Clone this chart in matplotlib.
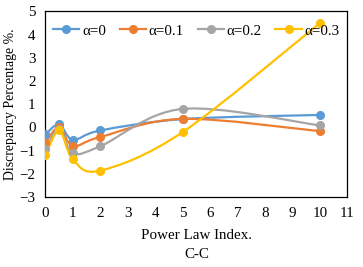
import numpy as np
import matplotlib
matplotlib.use('Agg')
import matplotlib.pyplot as plt
from matplotlib.path import Path
from matplotlib.patches import PathPatch
from matplotlib.lines import Line2D

plt.rcParams['font.family'] = ['Liberation Serif', 'DejaVu Serif']
plt.rcParams['font.size'] = 10.8

power_index = [0, 0.5, 1, 2, 5, 10]
alpha_0 = [-0.30, 0.13, -0.53, -0.13, 0.36, 0.54]
alpha_01 = [-0.65, 0.00, -0.80, -0.41, 0.37, -0.16]
alpha_02 = [-0.94, -0.06, -1.10, -0.81, 0.80, 0.09]
alpha_03 = [-1.20, -0.13, -1.37, -1.86, -0.20, 4.50]
labels = ['α=0', 'α=0.1', 'α=0.2', 'α=0.3']
colors = ['#5B9BD5', '#ED7D31', '#A5A5A5', '#FFC000']


def smooth_path(x, y):
    # excel-like smoothed line: bezier through points, catmull-rom controls
    x = np.asarray(x, float)
    y = np.asarray(y, float)
    n = len(x)
    verts = [(x[0], y[0])]
    codes = [Path.MOVETO]
    for i in range(n - 1):
        p0 = np.array([x[max(i - 1, 0)], y[max(i - 1, 0)]])
        p1 = np.array([x[i], y[i]])
        p2 = np.array([x[i + 1], y[i + 1]])
        p3 = np.array([x[min(i + 2, n - 1)], y[min(i + 2, n - 1)]])
        c1 = p1 + (p2 - p0) / 6
        c2 = p2 - (p3 - p1) / 6
        verts += [tuple(c1), tuple(c2), tuple(p2)]
        codes += [Path.CURVE4] * 3
    return Path(verts, codes)


fig, ax = plt.subplots(figsize=(3.63, 2.67), dpi=100)
fig.subplots_adjust(left=0.125, right=0.957, top=0.957, bottom=0.262)

series = [alpha_0, alpha_01, alpha_02, alpha_03]
handles = []
for vals, lab, col in zip(series, labels, colors):
    patch = PathPatch(smooth_path(power_index, vals), facecolor='none',
                      edgecolor=col, lw=1.6, zorder=2)
    ax.add_patch(patch)
    ax.plot(power_index, vals, 'o', color=col, ms=5.5, zorder=3)
    handles.append(Line2D([], [], color=col, lw=1.6, marker='o', ms=5.5))

ax.set_xlim(0, 11)
ax.set_ylim(-3, 5)
ax.set_xticks(range(0, 12))
ax.set_yticks(range(-3, 6))
ax.tick_params(length=0, pad=7)
for s in ax.spines.values():
    s.set_color('black')
    s.set_linewidth(0.9)

ax.set_xlabel('Power Law Index.\nC-C', linespacing=1.6, labelpad=7)
ax.set_ylabel('Discrepancy Percentage %.', fontsize=9.9)
ax.yaxis.set_label_coords(-0.095, 0.5)

ax.legend(handles, labels, loc='upper center', ncol=4, frameon=False,
          bbox_to_anchor=(0.5, 1.0), handlelength=1.75, columnspacing=0.9,
          handletextpad=0.2, borderaxespad=0.45)

plt.savefig('out.png')
